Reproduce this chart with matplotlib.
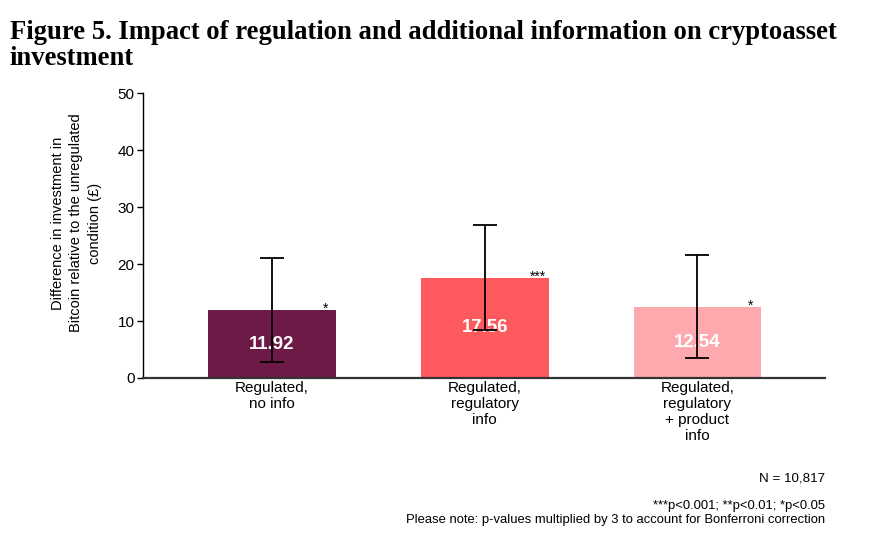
import matplotlib
matplotlib.use("Agg")
import matplotlib.pyplot as plt

# data
conditions = ["Regulated,\nno info", "Regulated,\nregulatory\ninfo", "Regulated,\nregulatory\n+ product\ninfo"]
means = [11.92, 17.56, 12.54]
ci_half = [9.1, 9.2, 9.1]
stars = ["*", "***", "*"]
bar_colors = ["#6d1b46", "#fe5a5e", "#fea9ad"]

plt.rcParams["font.family"] = ["Liberation Sans", "DejaVu Sans"]

fig = plt.figure(figsize=(8.86, 5.38), dpi=100)
ax = fig.add_axes([0.1614, 0.2974, 0.7698, 0.5297])

x = list(range(len(conditions)))
bars = ax.bar(x, means, width=0.6, color=bar_colors, zorder=1)
ax.errorbar(x, means, yerr=ci_half, fmt="none", ecolor="black",
            elinewidth=1.3, capsize=8.6, capthick=1.3, zorder=3)

# value labels and significance stars
for b, m, s in zip(bars, means, stars):
    cx = b.get_x() + b.get_width() / 2
    ax.text(cx, m / 2, f"{m:.2f}", ha="center", va="center",
            color="white", fontsize=13.4, fontweight="bold", zorder=2)
    ax.text(b.get_x() + b.get_width() - 0.05, m - 0.5, s, ha="center",
            va="baseline", fontsize=10)

ax.set_xlim(-0.607, 2.6)
ax.set_ylim(0, 50)
ax.set_yticks([0, 10, 20, 30, 40, 50])
ax.set_xticks(x)
ax.set_xticklabels(conditions, fontsize=11, linespacing=1.2)
ax.tick_params(axis="x", length=0, pad=2)
ax.tick_params(axis="y", labelsize=11, length=4, width=1, pad=2)

for side in ["top", "right"]:
    ax.spines[side].set_visible(False)
ax.spines["left"].set_linewidth(1)
ax.spines["bottom"].set_linewidth(1.6)
ax.spines["bottom"].set_color("#333333")

fig.text(0.0863, 0.5855, "Difference in investment in\nBitcoin relative to the unregulated\ncondition (\u00a3)",
         rotation=90, ha="center", va="center", fontsize=10.5, linespacing=1.4,
         multialignment="center")

# title, two lines placed by baseline
title_font = dict(ha="left", va="baseline", fontsize=19.2, fontweight="bold",
                  family=["Liberation Serif", "DejaVu Serif"])
fig.text(0.011, 1 - 39 / 538, "Figure 5. Impact of regulation and additional information on cryptoasset", **title_font)
fig.text(0.011, 1 - 65 / 538, "investment", **title_font)

fig.text(0.931, 0.11, "N = 10,817", ha="right", va="center", fontsize=9.6)
fig.text(0.931, 0.06, "***p<0.001; **p<0.01; *p<0.05", ha="right", va="center", fontsize=9.4)
fig.text(0.931, 0.033, "Please note: p-values multiplied by 3 to account for Bonferroni correction",
         ha="right", va="center", fontsize=9.4)

fig.savefig("out.png", dpi=100)
